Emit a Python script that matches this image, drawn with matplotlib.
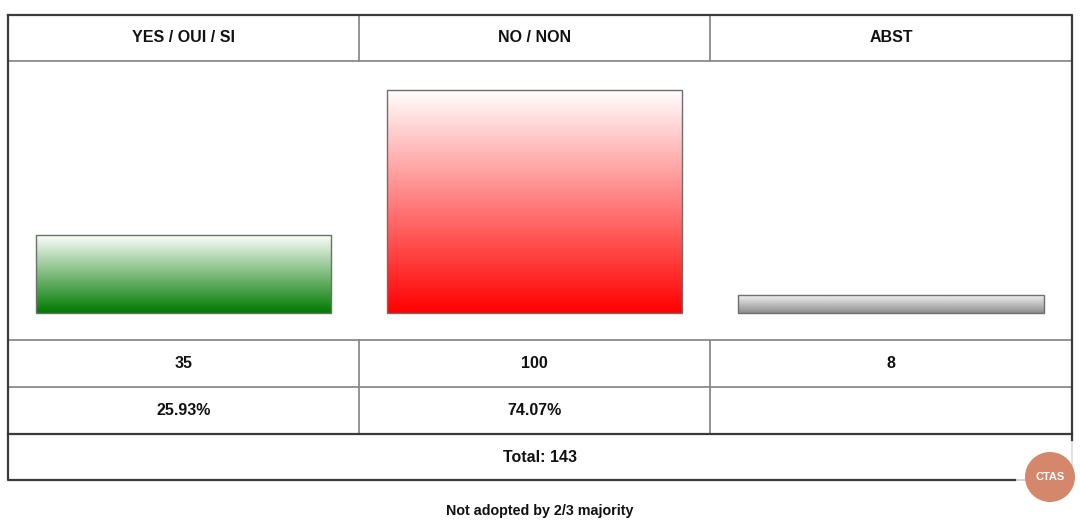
import numpy as np
import matplotlib
matplotlib.use("Agg")
import matplotlib.pyplot as plt
from matplotlib.colors import LinearSegmentedColormap
from matplotlib.patches import Circle

# ---- data ----
categories = ["YES / OUI / SI", "NO / NON", "ABST"]
votes = [35, 100, 8]
percents = ["25.93%", "74.07%", ""]
total_label = "Total: 143"
footer = "Not adopted by 2/3 majority"
bar_top_colors = ["#ffffff", "#ffffff", "#f2f2f2"]
bar_bottom_colors = ["#007a00", "#ff0000", "#8c8c8c"]

plt.rcParams['font.family'] = ['Liberation Sans', 'DejaVu Sans']

W, H = 1080, 529
fig = plt.figure(figsize=(W / 100, H / 100), dpi=100)

# layout in pixel coordinates
L, R = 8, 1072
col_edges = [L, 359, 710, R]
y_top, y_head, y_bars, y_vals, y_pct, y_tot = 15, 61, 340, 387, 434, 480
base_px, top_px = 313, 90       # pixel rows of value 0 and value 100
bar_margin = 28

# table axes (pixel space)
tab = fig.add_axes([0, 0, 1, 1])
tab.set_xlim(0, W)
tab.set_ylim(H, 0)
tab.axis("off")

inner = dict(color="#8a8a8a", lw=1.3, zorder=2)
outer = dict(color="#3a3a3a", lw=1.6, zorder=3)
for y in (y_head, y_bars, y_vals):
    tab.plot([L, R], [y, y], **inner)
tab.plot([L, R], [y_pct, y_pct], **outer)
for x in col_edges[1:-1]:
    tab.plot([x, x], [y_top, y_head], **inner)
    tab.plot([x, x], [y_bars, y_pct], **inner)
tab.plot([L, R, R], [y_top, y_top, y_pct + 6], **outer)
tab.plot([L, L, 1015], [y_top, y_tot, y_tot], **outer)
tab.plot([R, R], [y_pct + 6, y_tot], color="#dddddd", lw=1.2, zorder=2)
tab.plot([1015, R], [y_tot, y_tot], color="#cccccc", lw=1.2, zorder=2)

for i, cat in enumerate(categories):
    cx = (col_edges[i] + col_edges[i + 1]) / 2
    tab.text(cx, (y_top + y_head) / 2, cat, ha="center", va="center",
             fontsize=11.5, fontweight="bold", color="#111111")
    tab.text(cx, (y_bars + y_vals) / 2, str(votes[i]), ha="center", va="center",
             fontsize=11.5, fontweight="bold", color="#111111")
    if percents[i]:
        tab.text(cx, (y_vals + y_pct) / 2, percents[i], ha="center", va="center",
                 fontsize=11.5, fontweight="bold", color="#111111")
tab.text(W / 2, (y_pct + y_tot) / 2, total_label, ha="center", va="center",
         fontsize=11.5, fontweight="bold", color="#111111")
tab.text(W / 2, 511, footer, ha="center", va="center",
         fontsize=10.3, fontweight="bold", color="#111111")

# logo watermark
tab.add_patch(Circle((1050, 477), 25, facecolor="#d4876a", edgecolor="none", zorder=5))
tab.text(1050, 477, "CTAS", ha="center", va="center", fontsize=8,
         fontweight="bold", color="white", zorder=6)

# bar axes: spans the bar row, y in vote units
scale = (base_px - top_px) / 100.0
ymin = -(y_bars - base_px) / scale
ymax = (base_px - y_head) / scale
ax = fig.add_axes([L / W, 1 - y_bars / H, (R - L) / W, (y_bars - y_head) / H])
ax.set_xlim(L, R)
ax.set_ylim(ymin, ymax)
ax.axis("off")
ax.patch.set_alpha(0)

grad = np.linspace(0, 1, 256).reshape(-1, 1)
for i, v in enumerate(votes):
    x0 = col_edges[i] + bar_margin
    x1 = col_edges[i + 1] - bar_margin
    cmap = LinearSegmentedColormap.from_list(
        f"g{i}", [bar_bottom_colors[i], bar_top_colors[i]])
    ax.imshow(grad, extent=[x0, x1, 0, v], origin="lower", cmap=cmap,
              aspect="auto", zorder=1, interpolation="bilinear")
    ax.bar((x0 + x1) / 2, v, width=x1 - x0, bottom=0, facecolor="none",
           edgecolor="#6e6e6e", linewidth=1.0, zorder=2)
ax.set_xlim(L, R)
ax.set_ylim(ymin, ymax)

fig.savefig("out.png", dpi=100)
